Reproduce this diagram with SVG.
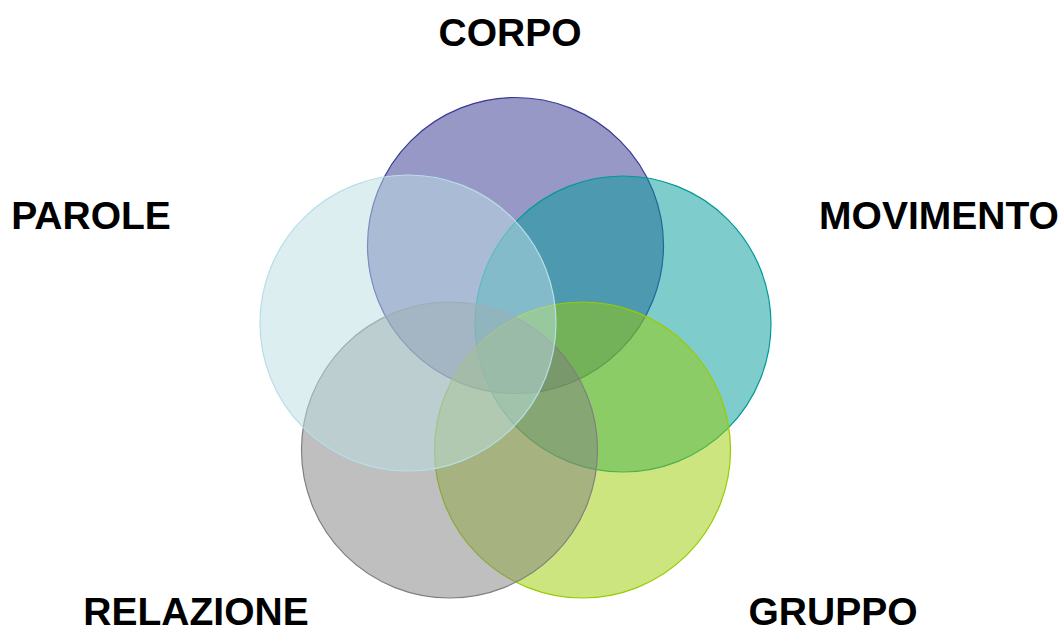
<svg xmlns="http://www.w3.org/2000/svg" width="1064" height="626" viewBox="0 0 1064 626">
<style>
.c{fill-opacity:0.5;stroke-width:1.2}
.t{font-family:"Liberation Sans",Arial,sans-serif;font-weight:bold;font-size:39px;fill:#000;text-anchor:middle}
</style>
<rect width="1064" height="626" fill="#fff"/>
<g id="corpo"><circle class="c" cx="515.5" cy="245.5" r="148" fill="#31318f" stroke="#3a3a96"/><text class="t" x="510" y="46">CORPO</text></g>
<g id="movimento"><circle class="c" cx="623" cy="324" r="148" fill="#009999" stroke="#009999"/><text class="t" x="939" y="229">MOVIMENTO</text></g>
<g id="gruppo"><circle class="c" cx="582.5" cy="450" r="148" fill="#99cc00" stroke="#99cc00"/><text class="t" x="833" y="624.5">GRUPPO</text></g>
<g id="relazione"><circle class="c" cx="449.5" cy="450" r="148" fill="#7f7f7f" stroke="#808080"/><text class="t" x="196" y="624.5">RELAZIONE</text></g>
<g id="parole"><circle class="c" cx="408" cy="323" r="148" fill="#bbdde3" stroke="#b7dee8"/><text class="t" x="91" y="229">PAROLE</text></g>
<g id="connectors"/>
</svg>
